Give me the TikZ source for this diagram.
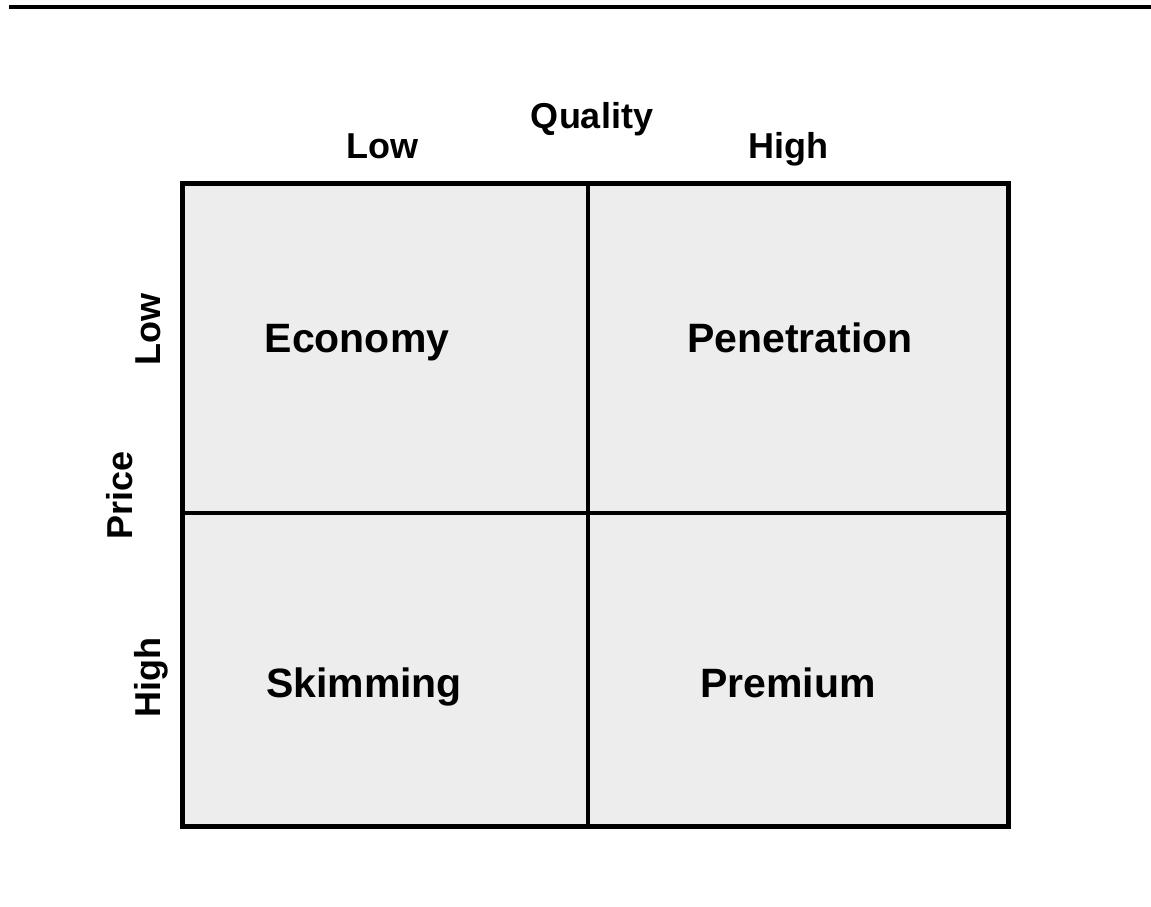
\documentclass[tikz,border=0pt]{standalone}
\usepackage{fontspec}
\setmainfont{Liberation Sans}
\definecolor{cellfill}{HTML}{EDEDED}
\begin{document}
\begin{tikzpicture}[x=1pt,y=-1pt,
  axis/.style={font=\fontsize{36}{40}\selectfont\bfseries, inner sep=0pt, anchor=base},
  cell/.style={font=\fontsize{41}{46}\selectfont\bfseries, inner sep=0pt, anchor=base},
  grid/.style={line width=4pt, draw=black}]
\useasboundingbox (0,0) rectangle (1151,906);
% top rule
\coordinate (rl) at (9,7);
\coordinate (rr) at (1151,7);
\draw[line width=4pt] (rl) -- (rr);
% matrix
\coordinate (tl) at (182,183);
\coordinate (br) at (1008,826);
\coordinate (vt) at (588,183);
\coordinate (vb) at (588,826);
\coordinate (hl) at (182,513);
\coordinate (hr) at (1008,513);
\fill[cellfill] (tl) rectangle (br);
\draw[grid] (vt) -- (vb);
\draw[grid] (hl) -- (hr);
\draw[line width=5pt] (tl) rectangle (br);
% axis labels
\node[axis] (quality) at (592,128) {Quality};
\node[axis] (qlow) at (382,158) {Low};
\node[axis] (qhigh) at (788,158) {High};
\node[axis, rotate=90] (price) at (132,495) {Price};
\node[axis, rotate=90] (plow) at (160,329) {Low};
\node[axis, rotate=90] (phigh) at (160,677) {High};
% cells
\node[cell] (economy) at (357,352) {Economy};
\node[cell] (penetration) at (800,352) {Penetration};
\node[cell] (skimming) at (364,697) {Skimming};
\node[cell] (premium) at (788,697) {Premium};
\end{tikzpicture}
\end{document}
